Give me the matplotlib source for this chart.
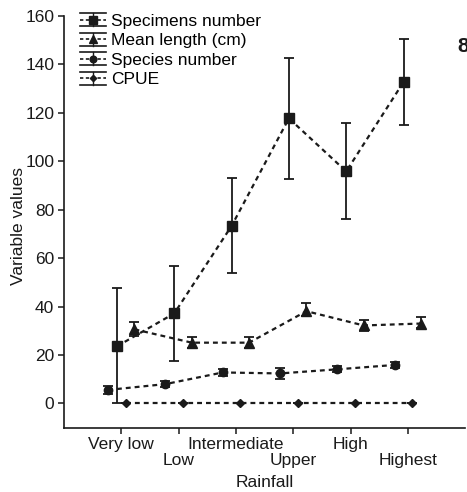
import matplotlib
matplotlib.use("Agg")
import numpy as np
import matplotlib.pyplot as plt
from matplotlib.lines import Line2D
from matplotlib.legend_handler import HandlerBase

plt.rcParams['font.family'] = ['Liberation Sans', 'DejaVu Sans']

rainfall = ["Very low", "Low", "Intermediate", "Upper", "High", "Highest"]

specimens = [23.6, 37.2, 73.3, 117.7, 95.8, 132.7]
specimens_lo = [0.0, 17.6, 53.7, 92.7, 76.0, 115.0]
specimens_hi = [47.5, 56.8, 93.0, 142.5, 115.7, 150.3]

mean_length = [30.6, 25.1, 25.1, 38.1, 32.2, 33.0]
mean_length_lo = [28.0, 22.8, 23.0, 36.0, 30.0, 31.0]
mean_length_hi = [33.8, 27.6, 27.5, 41.4, 34.6, 35.5]

species = [5.6, 8.0, 12.8, 12.4, 14.1, 15.9]
species_lo = [3.8, 6.6, 11.2, 10.3, 12.8, 14.8]
species_hi = [7.4, 9.4, 14.4, 14.5, 15.4, 17.0]

cpue = [0.0, 0.0, 0.0, 0.0, 0.0, 0.0]
cpue_lo = [0.0, 0.0, 0.0, 0.0, 0.0, 0.0]
cpue_hi = [0.0, 0.0, 0.0, 0.0, 0.0, 0.0]

ink = "#1a1a1a"
fs = 12.5


class ErrHandler(HandlerBase):
    # legend key: dashed line with marker, boxed by two cap lines
    def create_artists(self, legend, orig, xd, yd, w, h, fontsize, trans):
        x0, x1 = -xd, -xd + w
        y0, y1 = -yd - 0.3, -yd + h + 0.3
        ym = (y0 + y1) / 2
        xm = (x0 + x1) / 2
        arts = [
            Line2D([x0, x1], [y0, y0], color=ink, lw=1.2),
            Line2D([x0, x1], [y1, y1], color=ink, lw=1.2),
            Line2D([xm, xm], [y0, y1], color=ink, lw=1.0),
            Line2D([x0, x1], [ym, ym], color=ink, lw=1.2, ls=(0, (2, 1.5))),
            Line2D([xm], [ym], color=ink, marker=orig.get_marker(),
                   markersize=orig.get_markersize(), ls="none"),
        ]
        for a in arts:
            a.set_transform(trans)
        return arts


fig = plt.figure(figsize=(4.67, 4.92), dpi=100)
ax = fig.add_axes([0.137, 0.1307, 0.859, 0.837])

x = np.arange(len(rainfall))
series = [
    ("Specimens number", specimens, specimens_lo, specimens_hi, -0.075, "s", 6.5),
    ("Mean length (cm)", mean_length, mean_length_lo, mean_length_hi, 0.23, "^", 6.5),
    ("Species number", species, species_lo, species_hi, -0.23, "o", 6),
    ("CPUE", cpue, cpue_lo, cpue_hi, 0.075, "D", 4),
]

handles = []
for name, vals, lo, hi, off, mk, ms in series:
    vals = np.array(vals)
    err = [vals - np.array(lo), np.array(hi) - vals]
    ax.errorbar(x + off, vals, yerr=err, fmt="none", ecolor=ink,
                elinewidth=1.3, capsize=3.5, capthick=1.3, zorder=2)
    ax.plot(x + off, vals, color=ink, lw=1.6, ls=(0, (2.2, 1.8)),
            marker=mk, markersize=ms, zorder=3)
    handles.append(Line2D([], [], color=ink, marker=mk, markersize=ms * 0.8))

ax.set_xlim(-1, 6)
ax.set_ylim(-10, 160)
ax.set_yticks(np.arange(0, 161, 20))
ax.set_xticks(x)
ax.set_xticklabels(rainfall)

for side in ("top", "right"):
    ax.spines[side].set_visible(False)
for side in ("left", "bottom"):
    ax.spines[side].set_color(ink)
    ax.spines[side].set_linewidth(1.2)
ax.tick_params(colors=ink, labelsize=fs, length=4, width=1.1, direction="out")
ax.tick_params(axis="y", pad=3)
ax.tick_params(axis="x", pad=3)
# stagger the rainfall class names on two rows
for i, tick in enumerate(ax.xaxis.get_major_ticks()):
    if i % 2 == 1:
        tick.set_pad(14)

ax.set_xlabel("Rainfall", fontsize=fs, color=ink, labelpad=5)
ax.set_ylabel("Variable values", fontsize=fs, color=ink)
ax.yaxis.set_label_coords(-0.095, 0.49)

ax.legend(handles, [s[0] for s in series], handler_map={Line2D: ErrHandler()},
          loc="upper left", bbox_to_anchor=(0.01, 1.035), frameon=False,
          fontsize=fs, handlelength=1.5, handletextpad=0.3,
          labelspacing=0.25, borderpad=0.2)

fig.text(457 / 467, 1 - 37 / 492, "8", fontsize=15, fontweight="bold",
         color=ink, ha="left", va="top")

fig.savefig("out.png", dpi=100)
